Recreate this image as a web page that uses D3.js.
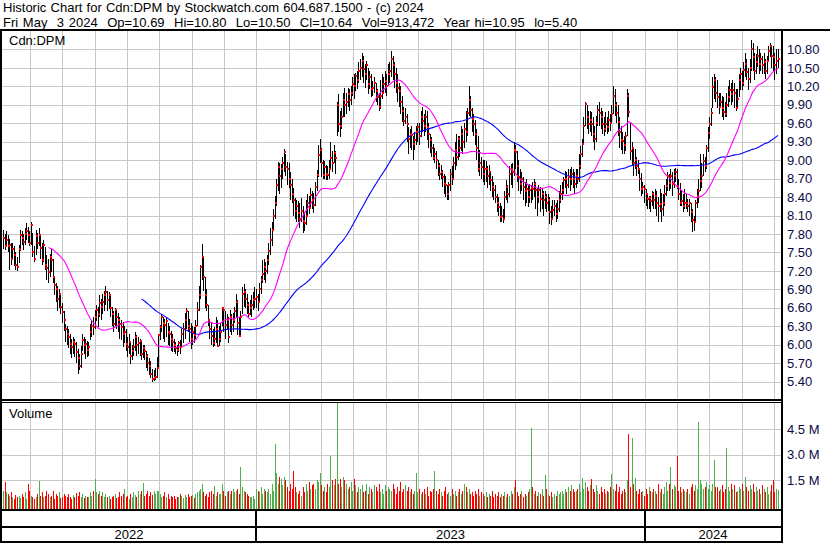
<!DOCTYPE html>
<html><head><meta charset="utf-8">
<script src="https://cdn.jsdelivr.net/npm/d3@7"></script>
<style>
body{margin:0;background:#fff}
svg{display:block}
text{font-family:Arial,"Liberation Sans",sans-serif;font-size:13px}
</style></head>
<body><svg id="c" width="830" height="543"></svg>
<script>
// ---- data (daily bars, mid-May 2022 .. May 3 2024) ----
const closes = [
7.73,7.61,7.70,7.60,7.62,7.40,7.55,7.45,7.30,7.27,
7.55,7.78,7.73,7.67,7.80,7.84,7.78,7.66,7.95,7.50,
7.40,7.76,7.65,7.78,7.57,7.37,7.62,7.30,7.24,7.18,
7.43,7.37,7.10,6.97,6.90,6.75,6.83,6.62,6.53,6.40,
6.25,6.17,6.12,6.01,5.96,6.05,6.01,5.88,5.79,5.65,
5.85,6.07,5.99,6.01,5.92,5.96,6.20,6.31,6.28,6.45,
6.56,6.50,6.67,6.62,6.69,6.80,6.86,6.72,6.80,6.59,
6.50,6.34,6.56,6.45,6.40,6.34,6.28,6.17,6.20,6.01,
5.96,6.05,5.82,5.90,5.96,6.12,6.00,6.03,6.06,5.85,
5.95,5.90,5.82,5.70,5.65,5.52,5.44,5.46,5.48,5.62,
6.15,6.29,6.45,6.35,6.32,6.38,6.20,6.17,6.09,6.05,
6.00,5.95,5.92,6.02,5.96,6.17,6.25,6.40,6.54,6.30,
6.25,6.09,6.20,6.15,6.30,6.56,6.80,7.26,7.42,7.10,
6.80,6.64,6.40,6.25,6.14,6.03,6.10,6.25,5.98,6.09,
6.20,6.59,6.56,6.32,6.40,6.13,6.45,6.32,6.40,6.55,
6.70,6.35,6.14,6.45,6.83,6.86,6.75,6.64,6.50,6.60,
6.64,6.72,6.75,6.78,6.70,6.90,7.05,7.15,7.26,7.20,
7.37,7.53,7.70,7.87,8.10,8.30,8.60,8.89,8.75,8.86,
8.95,9.13,8.89,8.86,8.70,8.60,8.45,8.35,8.17,8.25,
8.14,8.05,8.17,8.01,7.98,8.10,8.30,8.22,8.43,8.35,
8.27,8.57,8.76,9.08,9.16,8.95,8.76,8.89,8.78,8.76,
8.85,9.03,8.95,9.11,9.03,9.89,9.59,9.56,9.70,9.97,
9.89,9.94,10.07,9.97,10.10,10.24,10.21,10.37,10.30,10.45,
10.50,10.61,10.48,10.40,10.55,10.24,10.35,10.15,10.18,10.25,
10.13,10.02,9.86,10.05,10.10,10.24,10.29,10.20,10.40,10.45,
10.64,10.55,10.40,10.26,10.18,10.13,9.95,9.80,9.64,9.70,
9.59,9.35,9.43,9.41,9.27,9.32,9.46,9.54,9.40,9.70,
9.64,9.55,9.70,9.54,9.43,9.32,9.20,9.03,9.10,9.00,
8.90,8.78,8.81,8.73,8.62,8.59,8.45,8.59,8.78,8.70,
8.95,9.16,9.05,9.35,9.20,9.43,9.30,9.50,9.45,9.76,
9.97,9.81,9.67,9.59,9.43,9.20,8.86,8.95,8.89,8.78,
8.85,8.86,8.75,8.80,8.67,8.56,8.51,8.40,8.30,8.24,
8.07,8.10,8.05,8.40,8.56,8.45,8.78,8.86,8.80,9.16,
9.14,8.90,8.73,8.62,8.70,8.56,8.50,8.53,8.40,8.51,
8.55,8.53,8.62,8.51,8.40,8.51,8.37,8.45,8.35,8.40,
8.30,8.35,8.15,8.05,8.19,8.25,8.13,8.20,8.35,8.45,
8.51,8.67,8.70,8.60,8.73,8.70,8.78,8.70,8.62,8.75,
8.70,8.91,9.10,9.26,9.55,9.92,9.70,9.59,9.65,9.59,
9.43,9.35,9.60,9.81,9.76,9.70,9.59,9.50,9.59,9.54,
9.65,9.60,9.75,10.05,9.90,9.76,9.62,9.45,9.32,9.31,
9.25,9.40,10.04,9.79,9.15,9.20,8.95,9.01,8.90,8.85,
8.70,8.53,8.56,8.53,8.45,8.37,8.39,8.34,8.45,8.36,
8.42,8.31,8.25,8.28,8.20,8.31,8.45,8.58,8.74,8.63,
8.74,8.61,8.74,8.80,8.58,8.45,8.31,8.34,8.26,8.30,
8.31,8.26,8.31,8.15,8.02,8.00,8.30,8.42,8.50,8.66,
8.74,8.98,8.90,9.20,9.44,9.59,9.76,10.19,10.30,10.10,
10.03,9.87,9.95,9.84,9.79,9.75,9.90,10.03,10.14,10.08,
10.14,10.09,9.84,10.00,10.30,10.40,10.25,10.46,10.56,10.43,
10.32,10.50,10.81,10.67,10.45,10.60,10.70,10.56,10.65,10.54,
10.59,10.45,10.62,10.78,10.86,10.70,10.68,10.55,10.62,10.64
];
const highs = [
7.87,7.80,7.85,7.79,7.72,7.66,7.65,7.60,7.50,7.42,
7.62,7.87,7.84,7.80,7.90,7.97,7.92,7.85,7.99,7.82,
7.60,7.87,7.82,7.90,7.78,7.65,7.70,7.59,7.45,7.40,
7.48,7.55,7.40,7.10,7.00,6.95,6.90,6.80,6.67,6.55,
6.34,6.30,6.25,6.17,6.10,6.12,6.10,6.05,5.93,5.85,
5.98,6.17,6.12,6.10,6.06,6.04,6.34,6.40,6.45,6.56,
6.65,6.62,6.80,6.75,6.82,6.88,6.95,6.88,6.86,6.80,
6.61,6.55,6.60,6.58,6.52,6.45,6.40,6.37,6.30,6.25,
6.12,6.17,6.05,6.00,6.10,6.20,6.15,6.13,6.10,6.08,
6.00,5.99,5.90,5.85,5.78,5.73,5.60,5.58,5.62,5.80,
6.18,6.32,6.48,6.45,6.42,6.44,6.35,6.30,6.22,6.18,
6.10,6.04,6.00,6.06,6.08,6.25,6.35,6.52,6.60,6.55,
6.42,6.35,6.30,6.28,6.40,6.70,6.95,7.30,7.63,7.42,
7.10,6.90,6.65,6.42,6.37,6.25,6.28,6.45,6.40,6.30,
6.35,6.61,6.62,6.55,6.50,6.45,6.56,6.50,6.52,6.62,
6.83,6.72,6.45,6.55,6.94,6.99,6.90,6.83,6.70,6.72,
6.80,6.85,6.94,6.90,6.83,7.00,7.12,7.37,7.40,7.35,
7.45,7.65,7.90,8.00,8.20,8.42,8.70,8.97,8.95,8.93,
9.05,9.18,9.10,8.97,8.95,8.81,8.70,8.55,8.38,8.35,
8.33,8.30,8.38,8.25,8.15,8.35,8.45,8.42,8.54,8.50,
8.46,8.65,8.84,9.25,9.35,9.20,9.00,8.98,8.92,8.90,
9.00,9.30,9.15,9.25,9.15,9.95,10.07,9.80,9.85,10.10,
10.18,10.10,10.18,10.15,10.20,10.35,10.40,10.42,10.45,10.60,
10.65,10.75,10.70,10.56,10.61,10.50,10.45,10.40,10.29,10.35,
10.25,10.15,10.10,10.30,10.40,10.35,10.45,10.40,10.56,10.60,
10.77,10.70,10.60,10.50,10.40,10.25,10.20,10.05,9.86,9.85,
9.75,9.54,9.50,9.55,9.40,9.45,9.55,9.60,9.60,9.80,
9.86,9.75,9.82,9.80,9.60,9.43,9.38,9.27,9.20,9.15,
9.00,8.95,8.92,8.84,8.78,8.75,8.60,8.65,8.85,8.90,
9.05,9.30,9.43,9.40,9.40,9.55,9.50,9.60,9.80,9.85,
10.20,10.05,9.85,9.75,9.65,9.50,9.40,9.16,9.05,9.00,
9.00,8.98,8.90,8.92,8.80,8.75,8.65,8.60,8.45,8.40,
8.30,8.25,8.20,8.50,8.67,8.60,8.90,8.94,8.95,9.30,
9.25,9.15,9.00,8.85,8.80,8.73,8.65,8.70,8.60,8.62,
8.60,8.65,8.70,8.65,8.55,8.60,8.56,8.55,8.50,8.50,
8.45,8.45,8.40,8.25,8.35,8.35,8.30,8.35,8.50,8.60,
8.65,8.72,8.82,8.80,8.86,8.85,8.89,8.85,8.80,8.85,
8.85,9.10,9.23,9.35,9.70,9.95,9.90,9.80,9.80,9.78,
9.70,9.55,9.72,9.90,9.95,9.85,9.80,9.70,9.78,9.70,
9.80,9.75,9.90,10.20,10.15,9.95,9.90,9.70,9.55,9.45,
9.40,9.45,10.15,10.10,9.60,9.29,9.18,9.18,9.05,9.00,
8.85,8.79,8.65,8.60,8.53,8.45,8.42,8.42,8.50,8.48,
8.53,8.50,8.40,8.53,8.47,8.45,8.60,8.70,8.80,8.78,
8.85,8.80,8.85,8.88,8.85,8.70,8.63,8.50,8.45,8.53,
8.45,8.37,8.37,8.31,8.20,8.10,8.35,8.53,8.70,9.10,
8.95,9.10,9.05,9.25,9.54,9.70,9.85,10.35,10.40,10.35,
10.30,10.10,10.10,10.05,10.03,9.95,10.10,10.20,10.30,10.25,
10.30,10.25,10.15,10.15,10.40,10.50,10.45,10.60,10.75,10.64,
10.50,10.64,10.95,10.90,10.75,10.72,10.86,10.80,10.75,10.70,
10.75,10.65,10.70,10.86,10.90,10.88,10.86,10.75,10.80,10.80
];
const lows = [
7.55,7.54,7.58,7.50,7.21,7.30,7.38,7.28,7.21,7.20,
7.32,7.52,7.62,7.54,7.62,7.70,7.66,7.60,7.62,7.42,
7.35,7.45,7.55,7.60,7.40,7.30,7.35,7.21,7.05,7.00,
7.10,7.18,7.00,6.80,6.70,6.55,6.60,6.50,6.35,6.22,
6.05,6.00,5.95,5.85,5.79,5.85,5.80,5.70,5.52,5.58,
5.62,5.90,5.85,5.77,5.80,5.82,6.07,6.12,6.15,6.25,
6.38,6.29,6.45,6.40,6.50,6.55,6.65,6.55,6.58,6.45,
6.30,6.20,6.30,6.25,6.20,6.10,6.07,5.96,6.02,5.90,
5.80,5.85,5.68,5.75,5.82,5.90,5.82,5.85,5.82,5.75,
5.78,5.75,5.62,5.57,5.50,5.45,5.40,5.41,5.42,5.46,
5.60,6.08,6.20,6.10,6.05,6.12,6.00,5.98,5.90,5.88,
5.88,5.84,5.82,5.88,5.85,5.95,6.03,6.10,6.25,6.20,
6.05,5.93,6.00,6.02,6.10,6.30,6.55,6.75,7.05,6.88,
6.60,6.55,6.30,6.10,6.00,5.96,5.98,6.03,5.96,5.98,
6.05,6.30,6.20,6.10,6.25,6.03,6.20,6.15,6.20,6.35,
6.45,6.16,6.12,6.13,6.50,6.61,6.60,6.50,6.45,6.48,
6.45,6.56,6.60,6.60,6.55,6.68,6.83,7.00,7.05,7.00,
7.15,7.30,7.45,7.60,7.85,8.05,8.25,8.50,8.45,8.55,
8.70,8.80,8.75,8.60,8.55,8.35,8.30,8.10,8.05,8.00,
8.00,7.90,8.00,7.82,7.85,7.95,8.08,8.12,8.20,8.20,
8.14,8.25,8.50,8.73,8.95,8.73,8.70,8.70,8.68,8.68,
8.70,8.85,8.80,8.95,8.78,9.40,9.45,9.38,9.50,9.70,
9.70,9.75,9.86,9.80,9.90,10.05,10.00,10.13,10.15,10.25,
10.30,10.35,10.25,10.18,10.30,10.07,10.15,10.02,10.05,10.10,
9.95,9.90,9.80,9.83,10.00,10.07,10.10,10.05,10.20,10.25,
10.35,10.30,10.18,10.10,9.95,9.86,9.75,9.62,9.55,9.59,
9.30,9.10,9.20,9.16,9.00,9.16,9.25,9.30,9.25,9.38,
9.45,9.40,9.45,9.32,9.20,9.11,9.05,9.00,8.95,8.86,
8.75,8.68,8.70,8.57,8.45,8.40,8.35,8.35,8.50,8.60,
8.70,8.84,8.90,9.00,9.05,9.15,9.10,9.20,9.30,9.40,
9.72,9.70,9.45,9.40,9.25,9.00,8.80,8.75,8.70,8.65,
8.60,8.65,8.55,8.60,8.50,8.40,8.35,8.30,8.15,8.10,
8.00,7.99,7.98,8.05,8.35,8.30,8.40,8.60,8.55,8.75,
8.85,8.65,8.50,8.45,8.50,8.35,8.25,8.30,8.24,8.30,
8.30,8.35,8.40,8.20,8.10,8.30,8.15,8.20,8.10,8.20,
8.15,8.18,7.96,7.95,8.05,8.10,8.00,8.05,8.15,8.30,
8.35,8.45,8.55,8.45,8.55,8.50,8.60,8.55,8.45,8.55,
8.62,8.65,8.85,9.05,9.25,9.55,9.50,9.43,9.45,9.40,
9.30,9.16,9.30,9.55,9.55,9.50,9.43,9.40,9.45,9.43,
9.45,9.48,9.60,9.75,9.72,9.60,9.40,9.20,9.16,9.10,
9.10,9.15,9.40,9.70,9.00,8.90,8.75,8.85,8.75,8.78,
8.50,8.42,8.45,8.30,8.26,8.21,8.20,8.15,8.25,8.20,
8.21,8.10,8.00,8.15,8.00,8.10,8.26,8.42,8.50,8.50,
8.53,8.42,8.55,8.65,8.53,8.35,8.26,8.26,8.15,8.20,
8.20,8.15,8.10,7.99,7.83,7.85,8.00,8.23,8.31,8.50,
8.55,8.74,8.80,8.85,9.13,9.35,9.55,9.84,10.00,9.95,
9.84,9.75,9.84,9.70,9.65,9.70,9.70,9.87,9.95,9.90,
9.95,9.84,9.80,9.84,10.03,10.14,10.14,10.20,10.35,10.30,
10.14,10.25,10.45,10.45,10.30,10.40,10.51,10.40,10.45,10.40,
10.40,10.32,10.40,10.60,10.67,10.50,10.45,10.30,10.40,10.50
];
// volume in millions of shares
const volumes = [
0.90,1.40,0.80,0.70,0.60,0.80,0.50,0.40,0.65,0.50,
0.60,0.45,0.70,0.50,0.80,0.40,1.27,0.90,0.60,0.50,
0.40,0.55,0.70,1.46,0.60,0.80,0.50,0.60,0.90,0.70,
0.50,0.60,0.85,0.40,0.70,0.60,0.80,0.45,0.50,0.70,
0.60,0.50,0.70,0.55,0.40,0.65,0.50,0.75,0.60,0.80,
0.50,0.70,0.45,0.60,0.55,0.50,0.80,0.60,0.90,1.58,
0.80,0.70,0.90,0.60,0.80,0.50,0.70,0.55,0.60,0.40,
0.50,0.60,0.70,0.45,0.55,0.80,0.60,0.70,1.00,0.50,
0.60,0.40,0.70,0.55,0.80,0.65,0.50,0.90,0.70,0.90,
1.33,0.60,0.70,0.90,0.60,0.80,0.65,0.90,0.70,0.85,
0.85,0.70,0.50,0.60,0.80,0.55,0.70,0.40,0.60,0.50,
0.60,0.40,0.55,0.50,0.70,0.60,0.45,0.65,0.55,0.70,
0.50,0.60,0.65,0.45,0.70,0.80,0.90,1.00,1.27,0.80,
0.60,0.70,0.50,0.80,0.90,0.70,1.17,0.60,0.80,0.70,
0.70,1.27,0.90,0.60,0.80,0.90,0.70,0.90,1.00,0.80,
0.90,1.00,0.70,2.29,1.10,0.90,0.80,0.70,0.60,0.50,
0.50,0.60,0.40,1.00,0.90,0.80,1.10,0.70,1.00,0.90,
0.80,1.00,0.70,1.30,0.90,3.63,1.90,1.30,1.70,1.60,
1.20,1.70,1.50,1.10,0.90,1.30,1.00,2.04,1.10,0.80,
0.70,0.90,0.60,1.10,0.80,1.30,0.90,1.40,1.00,1.20,
1.30,1.00,1.50,1.40,1.90,1.20,0.90,1.10,0.80,1.30,
1.10,2.90,1.50,1.20,1.60,6.10,1.30,1.60,1.10,1.70,
1.50,1.30,1.00,1.10,1.40,0.90,1.60,1.20,0.80,1.10,
1.00,1.20,0.80,0.90,1.30,0.70,1.10,1.00,0.80,1.20,
1.10,0.90,1.30,0.80,1.00,0.70,1.20,0.90,1.10,1.00,
0.90,1.30,1.00,0.70,1.10,0.90,1.40,0.80,1.00,1.20,
0.90,1.10,0.80,1.00,0.70,0.90,1.90,0.80,1.00,0.70,
0.80,1.00,0.70,1.10,0.60,0.90,0.80,1.00,2.04,0.90,
0.70,1.00,0.80,0.60,0.90,1.10,0.70,0.80,0.60,1.00,
0.70,0.90,0.60,0.80,1.00,0.70,0.90,1.27,1.10,0.80,
1.00,0.70,0.80,0.60,0.90,0.70,1.00,0.60,0.80,0.70,
0.60,0.80,0.50,0.70,0.60,0.90,0.50,0.70,0.60,0.80,
0.50,0.70,0.60,0.80,0.50,0.70,0.60,0.90,0.70,1.10,
1.52,0.80,0.60,0.70,0.90,0.50,0.70,0.60,0.80,1.00,
4.58,1.10,0.70,0.90,0.60,0.80,0.70,1.00,0.60,1.80,
1.00,0.70,0.60,0.80,0.50,0.70,0.60,0.90,0.70,0.80,
0.90,0.70,1.00,0.80,1.10,0.90,1.20,1.00,0.80,0.90,
1.00,1.30,0.80,1.65,1.00,1.40,1.10,0.90,1.20,1.60,
1.00,0.80,1.20,0.90,0.70,1.10,0.80,1.00,0.70,0.90,
0.80,1.10,1.87,1.00,0.90,1.30,0.80,1.10,0.70,0.90,
1.00,0.80,1.50,4.23,1.10,3.96,1.30,1.65,0.90,0.70,
1.00,0.80,0.90,0.60,1.00,0.70,1.10,0.90,0.80,1.00,
0.90,0.70,1.30,0.80,1.00,0.70,1.10,1.40,0.90,1.30,
2.30,1.00,1.20,1.10,2.90,0.90,1.10,0.80,1.00,0.90,
0.80,1.00,0.70,1.10,1.30,0.90,1.20,1.00,4.92,1.50,
1.30,1.00,1.10,1.40,1.00,1.20,0.90,1.30,2.67,1.10,
1.10,0.90,1.00,1.20,0.80,1.00,3.38,1.10,0.90,1.30,
1.00,1.20,0.80,0.90,1.10,1.00,1.30,0.90,1.70,1.10,
0.90,1.20,1.00,1.30,0.80,1.10,0.90,1.00,0.70,1.20,
1.00,0.80,1.10,0.70,0.90,1.20,1.52,0.80,1.00,0.913
];
const priceTicks = [5.40,5.70,6.00,6.30,6.60,6.90,7.20,7.50,7.80,8.10,8.40,8.70,9.00,9.30,9.60,9.90,10.20,10.50,10.80];
const volumeTicks = [1.5,3.0,4.5];
const yearLabels = ["2022","2023","2024"];
const yearStartBars = [163,413];      // first bar of 2023 and of 2024
const barsPerYear = 250;
const maShort = 30, maLong = 90;
const titleLine1 = "Historic Chart for Cdn:DPM by Stockwatch.com 604.687.1500 - (c) 2024";
const titleLine2 = "Fri May  3 2024  Op=10.69  Hi=10.80  Lo=10.50  Cl=10.64  Vol=913,472  Year hi=10.95  lo=5.40";
const symbol = "Cdn:DPM";

// ---- drawing ----
const svg = d3.select("#c");
const N = closes.length;
const plotL = 2, plotR = 781;
const x = d3.scaleLinear().domain([0, N-1]).range([3.5, 778]);
const yP = d3.scaleLinear().domain([5.1, 11.1]).range([400, 31]);
const yV = d3.scaleLinear().domain([0, 6]).range([506, 403.2]);
const grid = "#c8c8c8";

// vertical month grid
const monthIdx = d3.range(-7, 17).map(k => yearStartBars[0] + k*barsPerYear/12);
const gV = svg.append("g").attr("shape-rendering","crispEdges").attr("stroke",grid).attr("stroke-width",1);
monthIdx.forEach(m => {
  const gx = Math.round(x(m)) + 0.5;
  if (gx <= plotL || gx >= plotR) return;
  gV.append("line").attr("x1",gx).attr("x2",gx).attr("y1",31).attr("y2",400);
  gV.append("line").attr("x1",gx).attr("x2",gx).attr("y1",403).attr("y2",509);
});
priceTicks.forEach(t => {
  const gy = Math.round(yP(t)) + 0.5;
  gV.append("line").attr("x1",plotL).attr("x2",plotR).attr("y1",gy).attr("y2",gy);
});
volumeTicks.forEach(t => {
  const gy = Math.round(yV(t)) + 0.5;
  gV.append("line").attr("x1",plotL).attr("x2",plotR).attr("y1",gy).attr("y2",gy);
});

// clip paths
const defs = svg.append("defs");
defs.append("clipPath").attr("id","cp").append("rect").attr("x",plotL).attr("y",31).attr("width",plotR-plotL).attr("height",369);
defs.append("clipPath").attr("id","cv").append("rect").attr("x",plotL).attr("y",403).attr("width",plotR-plotL).attr("height",106);

const idx = d3.range(N);
// price bars
const gP = svg.append("g").attr("clip-path","url(#cp)");
gP.append("g").attr("shape-rendering","crispEdges").selectAll("rect").data(idx).join("rect")
  .attr("x", i => Math.floor(x(i)))
  .attr("width", 1)
  .attr("y", i => Math.round(yP(highs[i])))
  .attr("height", i => Math.max(1, Math.round(yP(lows[i])) - Math.round(yP(highs[i]))))
  .attr("fill", "#000");

// moving averages
function sma(n){ const out=[]; for(let i=n-1;i<N;i++){ out.push({i, v: d3.mean(closes.slice(i-n+1,i+1))}); } return out; }
const line = d3.line().x(d => x(d.i)).y(d => yP(d.v));
gP.append("path").datum(sma(maLong)).attr("d",line).attr("fill","none").attr("stroke","#0000ff").attr("stroke-width",1.1);
gP.append("path").datum(sma(maShort)).attr("d",line).attr("fill","none").attr("stroke","#ff00ff").attr("stroke-width",1.1);

// close marks
gP.append("g").attr("shape-rendering","crispEdges").selectAll("rect").data(idx).join("rect")
  .attr("x", i => Math.floor(x(i)))
  .attr("y", i => Math.round(yP(closes[i])) - 1)
  .attr("width", 2).attr("height", 2)
  .attr("fill", "#ff0000");

// volume bars
const gVo = svg.append("g").attr("clip-path","url(#cv)").attr("shape-rendering","crispEdges");
gVo.selectAll("rect").data(idx).join("rect")
  .attr("x", i => Math.floor(x(i)))
  .attr("width", 1)
  .attr("y", i => yV(volumes[i]))
  .attr("height", i => 510 - yV(volumes[i]))
  .attr("fill", i => (i === 0 || closes[i] >= closes[i-1]) ? "#4cb04c" : "#ff0000");

// frame
const fr = svg.append("g").attr("shape-rendering","crispEdges").attr("fill","#000");
fr.append("rect").attr("x",0).attr("y",29).attr("width",830).attr("height",2);
fr.append("rect").attr("x",0).attr("y",29).attr("width",2).attr("height",514);
fr.append("rect").attr("x",781).attr("y",29).attr("width",2).attr("height",514);
fr.append("rect").attr("x",0).attr("y",399).attr("width",783).attr("height",2);
fr.append("rect").attr("x",0).attr("y",402).attr("width",783).attr("height",1);
fr.append("rect").attr("x",0).attr("y",509).attr("width",783).attr("height",2);
fr.append("rect").attr("x",0).attr("y",526).attr("width",783).attr("height",2);
fr.append("rect").attr("x",0).attr("y",541).attr("width",783).attr("height",2);
const bx = yearStartBars.map(b => Math.round(x(b)) - 1);
bx.forEach(b => fr.append("rect").attr("x",b).attr("y",509).attr("width",2).attr("height",34));

// texts
svg.append("text").attr("x",3).attr("y",12).attr("fill","#000").style("white-space","pre")
  .style("word-spacing","0.6px").text(titleLine1);
svg.append("text").attr("x",3).attr("y",27).attr("fill","#000").style("white-space","pre")
  .style("word-spacing","1.1px").text(titleLine2);
svg.append("text").attr("x",9).attr("y",45).attr("fill","#000").text(symbol);
svg.append("text").attr("x",9).attr("y",418).attr("fill","#000").text("Volume");

svg.append("g").selectAll("text").data(priceTicks).join("text")
  .attr("x",787).attr("y", t => yP(t)).attr("dy","0.36em").attr("fill","#0a0a46")
  .text(t => t.toFixed(2));
svg.append("g").selectAll("text").data(volumeTicks).join("text")
  .attr("x",787).attr("y", t => yV(t)).attr("dy","0.36em").attr("fill","#0a0a46")
  .text(t => t.toFixed(1) + " M");

const bounds = [2, ...bx.map(b => b+1), 781];
yearLabels.forEach((lab,k) => {
  svg.append("text").attr("x",(bounds[k]+bounds[k+1])/2).attr("y",539).attr("text-anchor","middle").attr("fill","#000").text(lab);
});
</script>
</body></html>
